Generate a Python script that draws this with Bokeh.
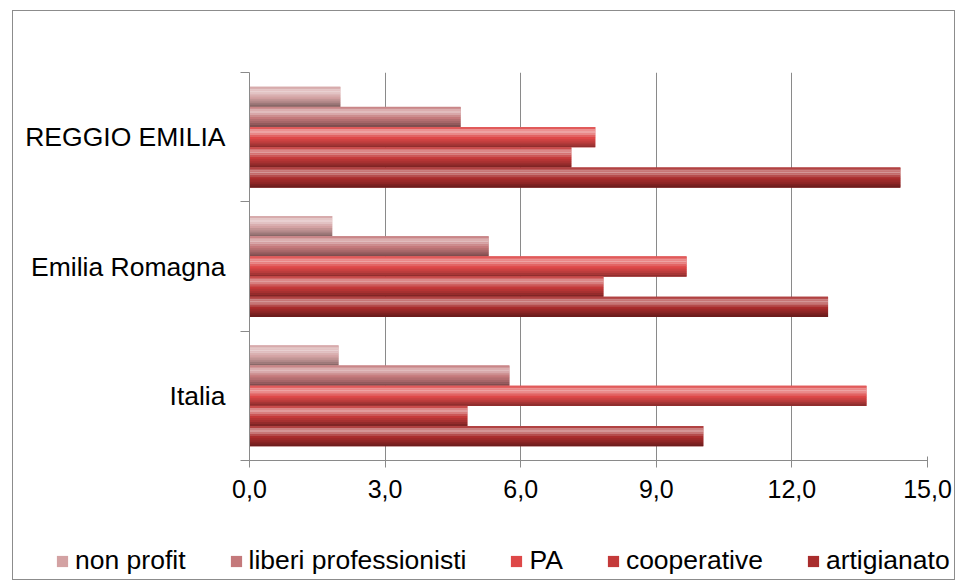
from bokeh.plotting import figure
from bokeh.models import ColumnDataSource, FixedTicker, Legend, LegendItem, Range1d, InlineStyleSheet
from bokeh.embed import file_html
from bokeh.resources import INLINE

# ---- data ----
categories = ["Italia", "Emilia Romagna", "REGGIO EMILIA"]
series = ["non profit", "liberi professionisti", "PA", "cooperative", "artigianato"]
non_profit = [1.97, 1.83, 2.01]
liberi_professionisti = [5.75, 5.29, 4.67]
pa = [13.65, 9.67, 7.65]
cooperative = [4.82, 7.83, 7.12]
artigianato = [10.04, 12.80, 14.40]
values = [non_profit, liberi_professionisti, pa, cooperative, artigianato]
x_ticks = [0, 3, 6, 9, 12, 15]
x_tick_labels = ["0,0", "3,0", "6,0", "9,0", "12,0", "15,0"]

# ---- styles ----
base_colors = ["#d3a2a3", "#c4797b", "#de4848", "#c43a3a", "#a92d2d"]
FONT = "Liberation Sans"
GRID = "#8a8a8a"
BAR_H = 0.156
# lightness profile of the bevelled bar, top to bottom
profile = [0.1, 0.4, 0.5, 0.35, 0.15, 0.0, -0.08, -0.15, -0.25, -0.35]


def shade(hexc, f):
    r, g, b = int(hexc[1:3], 16), int(hexc[3:5], 16), int(hexc[5:7], 16)
    if f >= 0:
        r, g, b = [int(c + (255 - c) * f) for c in (r, g, b)]
    else:
        r, g, b = [int(c * (1 + f)) for c in (r, g, b)]
    return "#%02x%02x%02x" % (r, g, b)


p = figure(width=955, height=519, output_backend="svg", toolbar_location=None,
           x_range=Range1d(0, 15), y_range=Range1d(0, 3),
           min_border_left=249, min_border_right=28, min_border_top=72,
           min_border_bottom=59)
p.outline_line_color = None
p.background_fill_color = "white"
p.border_fill_color = "white"

n = len(series)
nstrip = len(profile)
for j, (name, vals, col) in enumerate(zip(series, values, base_colors)):
    centers = [i + 0.5 + ((n - 1) / 2 - j) * BAR_H for i in range(len(categories))]
    src = ColumnDataSource(dict(y=centers, right=vals))
    p.hbar(y="y", right="right", left=0, height=BAR_H, source=src,
           fill_color=col, line_color=None)
    sh = BAR_H / nstrip
    for k, f in enumerate(profile):
        ys = [c + BAR_H / 2 - sh * (k + 0.5) for c in centers]
        s2 = ColumnDataSource(dict(y=ys, right=vals))
        p.hbar(y="y", right="right", left=0, height=sh * 1.05, source=s2,
               fill_color=shade(col, f), line_color=None)

# x axis
xa = p.xaxis[0]
xa.ticker = FixedTicker(ticks=x_ticks, minor_ticks=[])
xa.major_label_overrides = {t: l for t, l in zip(x_ticks, x_tick_labels)}
xa.major_label_text_font = FONT
xa.major_label_text_font_size = "25px"
xa.major_label_text_color = "#000000"
xa.axis_line_color = GRID
xa.major_tick_line_color = GRID
xa.major_tick_in = 4
xa.major_tick_out = 7
xa.major_label_standoff = 12

# y axis
ya = p.yaxis[0]
ya.ticker = FixedTicker(ticks=[i + 0.5 for i in range(len(categories))],
                        minor_ticks=list(range(len(categories) + 1)))
ya.major_label_overrides = {i + 0.5: c for i, c in enumerate(categories)}
ya.major_label_text_font = FONT
ya.major_label_text_font_size = "26.5px"
ya.major_label_text_color = "#000000"
ya.axis_line_color = GRID
ya.major_tick_line_color = None
ya.major_tick_in = 0
ya.major_tick_out = 0
ya.minor_tick_line_color = GRID
ya.minor_tick_in = 0
ya.minor_tick_out = 9
ya.major_label_standoff = 15

p.xgrid.grid_line_color = GRID
p.xgrid.ticker = FixedTicker(ticks=x_ticks)
p.ygrid.grid_line_color = None

# ---- legend strip (separate root so it is not clipped) ----
pl = figure(width=955, height=60, output_backend="svg", toolbar_location=None,
            x_range=Range1d(0, 1), y_range=Range1d(0, 1),
            x_axis_type=None, y_axis_type=None, min_border=0)
pl.outline_line_color = None
pl.grid.grid_line_color = None
pl.border_fill_color = "white"
legend_items = []
for name, col in zip(series, base_colors):
    # off-range stand-in glyph, only used for the legend swatch
    r = pl.hbar(y=[-5], right=[0], left=0, height=0.1, fill_color=col,
                line_color=None)
    legend_items.append(LegendItem(label=name, renderers=[r]))

legend = Legend(items=legend_items, orientation="horizontal", location=(55, 3))
legend.label_text_font = FONT
legend.label_text_font_size = "26.5px"
legend.label_text_color = "#000000"
legend.glyph_width = 14
legend.glyph_height = 14
legend.label_standoff = 6
legend.spacing = 43
legend.padding = 0
legend.margin = 0
legend.border_line_alpha = 0
legend.background_fill_alpha = 0
pl.add_layout(legend, "center")

p.stylesheets = [InlineStyleSheet(css="""
:host::after { content: ''; position: absolute; left: 12px; top: 10px;
  width: 941px; height: 509px; border: 1px solid #8c8c8c; border-bottom: none;
  pointer-events: none; }
""")]
pl.stylesheets = [InlineStyleSheet(css="""
:host::after { content: ''; position: absolute; left: 12px; top: 0px;
  width: 941px; height: 60px; border: 1px solid #8c8c8c; border-top: none;
  pointer-events: none; }
""")]

open("out.html", "w").write(file_html([p, pl], INLINE))
